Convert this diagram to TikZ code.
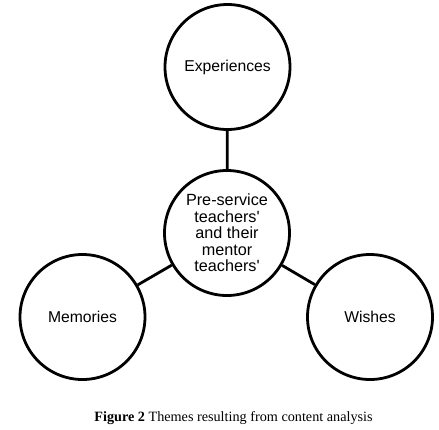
\documentclass[tikz,border=0pt]{standalone}
\usepackage{fontspec}
\setmainfont{Liberation Serif}
\newfontfamily\arialfont{Liberation Sans}
\begin{document}
\begin{tikzpicture}[x=1pt,y=1pt,
  theme/.style={circle,draw=black,line width=2.8pt,minimum size=125pt,inner sep=0pt,
    font=\arialfont\fontsize{15.7}{16.5}\selectfont,align=center,fill=white},
  link/.style={line width=2.8pt}]
\useasboundingbox (0,0) rectangle (439,-429);
\node[theme] (exp) at (227.5,-67) {Experiences};
\node[theme] (mem) at (82.5,-317) {Memories};
\node[theme] (wis) at (370,-317) {Wishes};
\node[theme,font=\arialfont\fontsize{16.2}{16.5}\selectfont] (ctr) at (227,-233) {Pre-service\\teachers'\\and their\\mentor\\teachers'};
\draw[link] (ctr) -- (exp);
\draw[link] (ctr) -- (mem);
\draw[link] (ctr) -- (wis);
\node[font=\fontsize{14.2}{16}\selectfont,anchor=base] (cap) at (233.5,-421) {\textbf{Figure 2} Themes resulting from content analysis};
\end{tikzpicture}
\end{document}
